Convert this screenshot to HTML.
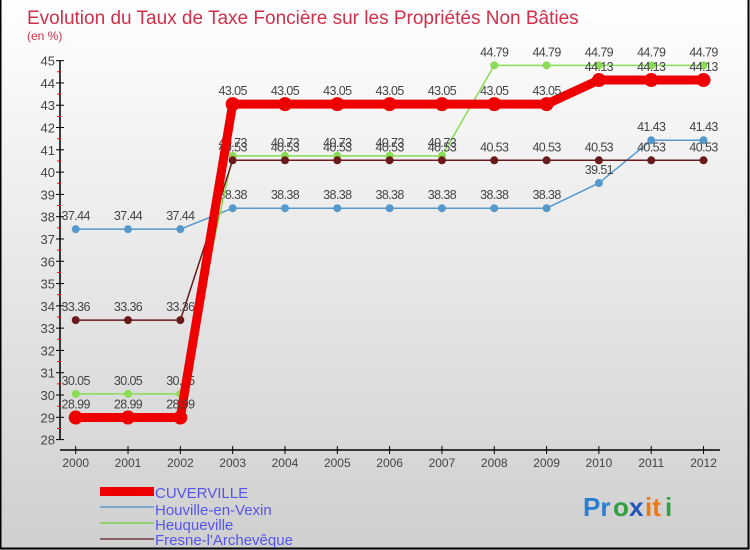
<!DOCTYPE html>
<html><head><meta charset="utf-8"><style>
body{margin:0}
#c{width:750px;height:550px;position:relative;overflow:hidden}
text{font-family:"Liberation Sans","DejaVu Sans",sans-serif}
</style></head><body>
<div id="c">
<svg id="s" width="750" height="550" xmlns="http://www.w3.org/2000/svg">
<defs><linearGradient id="bg" x1="0" y1="0" x2="0" y2="1"><stop offset="0" stop-color="#ffffff"/><stop offset="1" stop-color="#cfcfcf"/></linearGradient></defs>
<rect x="0" y="0" width="750" height="550" fill="url(#bg)"/>
<rect x="0.5" y="-2" width="748" height="550.5" fill="none" stroke="#000" stroke-width="2"/>
<text x="27" y="24" font-size="19" fill="#d0304a">Evolution du Taux de Taxe Foncière sur les Propriétés Non Bâties</text>
<text x="27" y="40" font-size="12" fill="#d0304a">(en %)</text>
<g id="axes"></g><g id="series"></g>
<g>
<rect x="100" y="487" width="54" height="9" fill="#ee0000"/>
<rect x="100" y="506" width="54" height="2" fill="#7aa8cc"/>
<rect x="100" y="522" width="54" height="2" fill="#90d070"/>
<rect x="100" y="538" width="54" height="2" fill="#8a6060"/>
<text x="155" y="498" font-size="15" fill="#5555ee">CUVERVILLE</text>
<text x="155" y="515" font-size="15" fill="#5555ee">Houville-en-Vexin</text>
<text x="155" y="530" font-size="15" fill="#5555ee">Heuqueville</text>
<text x="155" y="545" font-size="15" fill="#5555ee">Fresne-l'Archevêque</text>
</g>
<g font-size="26" font-weight="bold">
<text x="583" y="516" fill="#2a7fd0">Pr</text><text x="613" y="516" fill="#30a040">o</text><text x="629" y="516" fill="#2255bb">x</text><text x="645" y="516" fill="#ee7711">it</text><text x="665" y="516" fill="#30a040">i</text>
</g>
</svg></div>
<script>
const years=[2000,2001,2002,2003,2004,2005,2006,2007,2008,2009,2010,2011,2012];
const yTicks=[28,29,30,31,32,33,34,35,36,37,38,39,40,41,42,43,44,45];
const cuverville=[28.99,28.99,28.99,43.05,43.05,43.05,43.05,43.05,43.05,43.05,44.13,44.13,44.13];
const houville=[37.44,37.44,37.44,38.38,38.38,38.38,38.38,38.38,38.38,38.38,39.51,41.43,41.43];
const heuqueville=[30.05,30.05,30.05,40.73,40.73,40.73,40.73,40.73,44.79,44.79,44.79,44.79,44.79];
const fresne=[33.36,33.36,33.36,40.53,40.53,40.53,40.53,40.53,40.53,40.53,40.53,40.53,40.53];
const NS="http://www.w3.org/2000/svg";
const X=i=>75.7+i*52.32;
const Y=v=>417.3-(v-29)*22.29;
function mk(t,a,p){const e=document.createElementNS(NS,t);for(const k in a)e.setAttribute(k,a[k]);p.appendChild(e);return e;}
const ax=document.getElementById('axes');
const ya=mk('line',{x1:60,y1:Y(45),x2:60,y2:Y(28),stroke:'#000','stroke-width':1.5},ax);


const xa=mk('line',{x1:60,y1:450,x2:720,y2:450,stroke:'#000','stroke-width':1.5},ax);


yTicks.forEach(v=>{
 mk('line',{x1:56,y1:Y(v),x2:64,y2:Y(v),stroke:'#000'},ax);
 if(v<45)mk('line',{x1:57,y1:Y(v+0.5),x2:61,y2:Y(v+0.5),stroke:'#e00'},ax);
 const t=mk('text',{x:55,y:Y(v)+5,'text-anchor':'end','font-size':13,fill:'#444'},ax);
 t.textContent=v;
 
 
});
years.forEach((yr,i)=>{
 mk('line',{x1:X(i),y1:446,x2:X(i),y2:454,stroke:'#000'},ax);
 const t=mk('text',{x:X(i),y:467,'text-anchor':'middle','font-size':12,fill:'#444'},ax);
 t.textContent=yr;
 
 
});
const sg=document.getElementById('series');
function series(vals,color,w,r,name){
 const g=mk('g',{},sg);
 
 
 mk('polyline',{points:vals.map((v,i)=>X(i)+','+Y(v)).join(' '),fill:'none',stroke:color,'stroke-width':w,'stroke-linejoin':'round'},g);
 vals.forEach((v,i)=>{
  const c=mk('circle',{cx:X(i),cy:Y(v),r:r,fill:color},g);
  
  
  const t=mk('text',{x:X(i),y:Y(v)-9,'text-anchor':'middle','font-size':12.5,fill:'#444','letter-spacing':'-0.6'},g);
  t.textContent=v.toFixed(2);
  
  
 });
}
series(houville,'#5599cc',1.5,4,'houville-series');
series(heuqueville,'#88dd55',1.5,4,'heuqueville-series');
series(fresne,'#6a1a1a',1.5,4,'fresne-series');
series(cuverville,'#ee0000',9,7,'cuverville-series');
</script>
</body></html>
